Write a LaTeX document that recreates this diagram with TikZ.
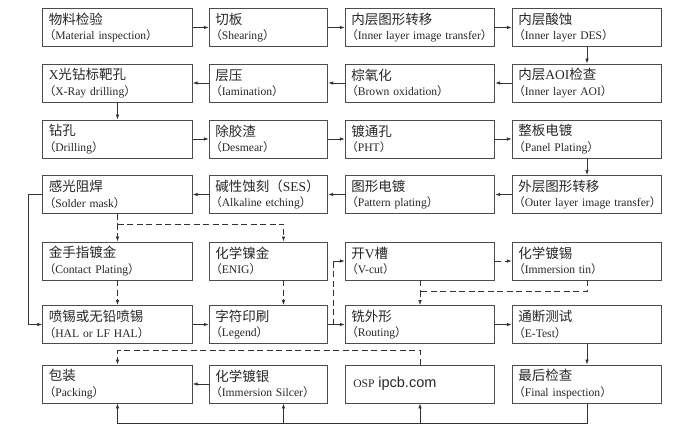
\documentclass[tikz,border=0pt]{standalone}
\usepackage{fontspec}
\setmainfont{Liberation Serif}
\newfontfamily\cjkfont{Noto Sans CJK SC}
\newfontfamily\webfont{Liberation Sans}
\usetikzlibrary{arrows.meta}
\newcommand{\zhtext}[1]{{\fontsize{13.5}{15.5}\selectfont\cjkfont #1}}
\newcommand{\zhlp}{{\cjkfont （}}
\newcommand{\zhrp}{{\cjkfont ）}}
\newcommand{\steptext}[2]{\hspace*{5pt}\zhtext{#1}\\\mbox{\zhlp#2\zhrp}}

\begin{document}
\begin{tikzpicture}[x=1pt,y=-1pt,
	stepbox/.style={draw=black!70, line width=0.9pt, align=left, inner xsep=1pt, inner ysep=0pt,
		minimum height=38pt, text width=147.5pt, font=\fontsize{11.6}{15.5}\selectfont, text=black!85},
	narrowbox/.style={stepbox, text width=116.5pt},
	sline/.style={draw=black!80, line width=0.7pt},
	dline/.style={sline, dash pattern=on 6pt off 3.5pt},
	flow/.style={sline, -{Latex[length=5pt,width=3.5pt]}},
	dflow/.style={dline, -{Latex[length=5pt,width=3.5pt]}}]
			\useasboundingbox (0,0) rectangle (700,430);
			% row 1
			\node[stepbox] (material) at (117.5,27.5) {\steptext{物料检验}{Material inspection}};
			\node[narrowbox] (shearing) at (268.5,27.5) {\steptext{切板}{Shearing}};
			\node[stepbox] (innerimg) at (420,27.5) {\steptext{内层图形转移}{Inner layer image transfer}};
			\node[stepbox] (innerdes) at (587,27.5) {\steptext{内层酸蚀}{Inner layer DES}};
			% row 2
			\node[stepbox] (xray) at (117.5,83) {\steptext{\textrm{X}光钻标靶孔}{X-Ray drilling}};
			\node[narrowbox] (lamination) at (268.5,83) {\steptext{层压}{Iamination}};
			\node[stepbox] (brown) at (420,83) {\steptext{棕氧化}{Brown oxidation}};
			\node[stepbox] (inneraoi) at (587,83) {\steptext{内层\textrm{AOI}检查}{Inner layer AOI}};
			% row 3
			\node[stepbox] (drilling) at (117.5,139) {\steptext{钻孔}{Drilling}};
			\node[narrowbox] (desmear) at (268.5,139) {\steptext{除胶渣}{Desmear}};
			\node[stepbox] (pht) at (420,139) {\steptext{镀通孔}{PHT}};
			\node[stepbox] (panel) at (587,139) {\steptext{整板电镀}{Panel Plating}};
			% row 4
			\node[stepbox] (soldermask) at (117.5,194.5) {\steptext{感光阻焊}{Solder mask}};
			\node[narrowbox] (etching) at (268.5,194.5) {\steptext{碱性蚀刻（\textrm{SES}）}{Alkaline etching}};
			\node[stepbox] (pattern) at (420,194.5) {\steptext{图形电镀}{Pattern plating}};
			\node[stepbox] (outerimg) at (587,194.5) {\steptext{外层图形转移}{Outer layer image transfer}};
			% row 5
			\node[stepbox] (contact) at (117.5,261) {\steptext{金手指镀金}{Contact Plating}};
			\node[narrowbox] (enig) at (268.5,261) {\steptext{化学镍金}{ENIG}};
			\node[stepbox] (vcut) at (420,261) {\steptext{开\textrm{V}槽}{V-cut}};
			\node[stepbox] (tin) at (587,261) {\steptext{化学镀锡}{Immersion tin}};
			% row 6
			\node[stepbox] (hal) at (117.5,324.5) {\steptext{喷锡或无铅喷锡}{HAL or LF HAL}};
			\node[narrowbox] (legend) at (268.5,324.5) {\steptext{字符印刷}{Legend}};
			\node[stepbox] (routing) at (420,324.5) {\steptext{铣外形}{Routing}};
			\node[stepbox] (etest) at (587,324.5) {\steptext{通断测试}{E-Test}};
			% row 7
			\node[stepbox] (packing) at (117.5,384) {\steptext{包装}{Packing}};
			\node[narrowbox] (silver) at (268.5,384) {\steptext{化学镀银}{Immersion Silcer}};
			\node[stepbox] (osp) at (420,384) {\hspace*{7pt}OSP {\webfont\fontsize{14.5}{15}\selectfont ipcb.com}};
			\node[stepbox] (final) at (587,384) {\steptext{最后检查}{Final inspection}};
			% rows 1 to 4
			\draw[flow] (material) -- (shearing);
			\draw[flow] (shearing) -- (innerimg);
			\draw[flow] (innerimg) -- (innerdes);
			\draw[flow] (innerdes) -- (inneraoi);
			\draw[flow] (inneraoi) -- (brown);
			\draw[flow] (brown) -- (lamination);
			\draw[flow] (lamination) -- (xray);
			\draw[flow] (xray) -- (drilling);
			\draw[flow] (drilling) -- (desmear);
			\draw[flow] (desmear) -- (pht);
			\draw[flow] (pht) -- (panel);
			\draw[flow] (panel) -- (outerimg);
			\draw[flow] (outerimg) -- (pattern);
			\draw[flow] (pattern) -- (etching);
			\draw[flow] (etching) -- (soldermask);
			% surface finish branches
			\coordinate (enigin) at ([xshift=15pt]enig.north);
			\coordinate (enigout) at ([xshift=15pt]enig.south);
			\coordinate (legendin) at ([xshift=15pt]legend.north);
			\draw[dline] (soldermask.south) -- ++(0,10) coordinate (split);
			\draw[dflow] (split) -- (contact.north);
			\draw[dflow] (split) -| (enigin);
			\draw[dflow] (contact) -- (hal);
			\draw[dflow] (enigout) -- (legendin);
			\draw[flow] (soldermask.west) -- ++(-14,0) |- (hal.west);
			\draw[flow] (hal) -- (legend);
			\draw[flow] (legend) -- (routing);
			\coordinate (fork) at ([xshift=5pt]legend.east);
			\draw[dline] (fork) -- (fork |- vcut.west);
			\draw[flow] (fork |- vcut.west) -- (vcut.west);
			\draw[dflow] (vcut) -- (tin);
			\draw[dline] (vcut.south) -- ++(0,11) coordinate (merge);
			\draw[dflow] (merge) -- (routing.north);
			\draw[dline] (tin.south) |- (merge);
			\draw[flow] (routing) -- (etest);
			\draw[flow] (etest) -- (final);
			% last row
			\draw[flow] (final.south) -- ++(0,20) coordinate (bottom) -| (packing.south);
			\coordinate (silverin) at ([xshift=15pt]silver.south);
			\draw[flow] (silverin |- bottom) -- (silverin);
			\draw[flow] (osp.south |- bottom) -- (osp.south);
			\draw[flow] (silver) -- (packing);
			\draw[dflow] (osp.north) -- ++(0,-14) -| (packing.north);
		\end{tikzpicture}
\end{document}
